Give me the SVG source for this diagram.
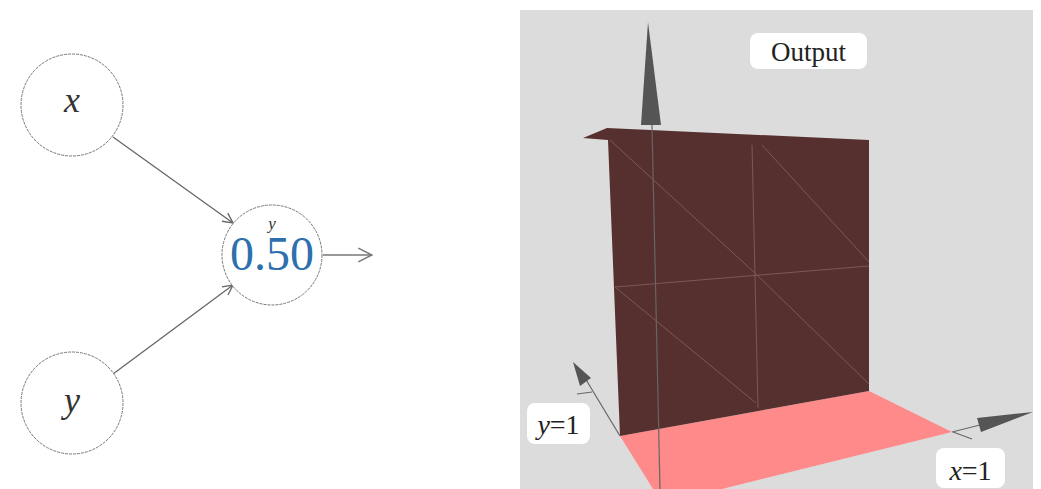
<svg xmlns="http://www.w3.org/2000/svg" width="1041" height="489" viewBox="0 0 1041 489">
<style>
.node{fill:#fff;stroke:#777;stroke-width:1;stroke-dasharray:3 1}
.edge{stroke:#666;stroke-width:1.3;fill:none}
.lbl{font-family:"Liberation Serif","DejaVu Serif",serif;font-style:italic;fill:#333}
.grid{stroke:#7d5856;stroke-width:1;fill:none}
.axis{stroke:#666;stroke-width:1.2;fill:none}
.cone{fill:#555}
.tag{fill:#fff}
.tagtxt{font-family:"Liberation Serif","DejaVu Serif",serif;fill:#222}
</style>
<defs>
<marker id="open" viewBox="0 0 12 12" refX="11" refY="6" markerWidth="12" markerHeight="12" markerUnits="userSpaceOnUse" orient="auto">
<path d="M1,1 L11,6 L1,11" fill="none" stroke="#666" stroke-width="1.3"/>
</marker>
<marker id="open2" viewBox="0 0 14 14" refX="13" refY="7" markerWidth="16" markerHeight="16" markerUnits="userSpaceOnUse" orient="auto">
<path d="M1,1 L13,7 L1,13" fill="none" stroke="#777" stroke-width="1.3"/>
</marker>
</defs>
<rect width="1041" height="489" fill="#fff"/>
<g id="connectors">
<line class="edge" x1="113" y1="137" x2="233" y2="223" marker-end="url(#open)"/>
<line class="edge" x1="113" y1="374" x2="233" y2="285" marker-end="url(#open)"/>
<line x1="323" y1="255" x2="372" y2="255" stroke="#999" stroke-width="2.2" marker-end="url(#open2)"/>
</g>
<g id="node-x">
<circle class="node" cx="72" cy="105" r="51"/>
<text class="lbl" x="72" y="112" font-size="36" text-anchor="middle">x</text>
</g>
<g id="node-y">
<circle class="node" cx="72" cy="403" r="51"/>
<text class="lbl" x="72" y="412" font-size="36" text-anchor="middle">y</text>
</g>
<g id="node-out">
<circle class="node" cx="272" cy="255" r="50"/>
<text class="lbl" x="272" y="229" font-size="17" text-anchor="middle">y</text>
<text x="272" y="270" font-family="Liberation Serif, DejaVu Serif, serif" font-size="48" fill="#2e6fae" text-anchor="middle">0.50</text>
</g>
<g id="plot">
<rect x="520" y="10" width="513" height="479" fill="#dcdcdc"/>
<polygon points="620,436 869,391 952,432 722,489 653,489" fill="#ff8a8a"/>
<polygon points="583,138 607,128 869,140 869,391 620,436 608,140" fill="#56302f"/>
<line class="grid" x1="752" y1="145" x2="758" y2="408"/>
<line class="grid" x1="615" y1="287" x2="869" y2="266"/>
<line class="grid" x1="610" y1="140" x2="757" y2="275"/>
<line class="grid" x1="762" y1="145" x2="869" y2="262"/>
<line class="grid" x1="615" y1="287" x2="756" y2="403"/>
<line class="grid" x1="757" y1="275" x2="869" y2="384"/>
<line class="axis" x1="652" y1="125" x2="660" y2="489"/>
<polygon class="cone" points="648,22 641,125 661,125"/>
<line class="axis" x1="585" y1="378" x2="620" y2="436"/>
<polygon class="cone" points="573,362 580,386 591,378"/>
<line class="axis" x1="577" y1="394" x2="592" y2="392"/>
<line class="axis" x1="952" y1="432" x2="980" y2="425"/>
<polygon class="cone" points="1033,412 977,418 981,432"/>
<line class="axis" x1="953" y1="432" x2="972" y2="439"/>
<g id="label-output">
<rect class="tag" x="750" y="33" width="117" height="36" rx="8"/>
<text class="tagtxt" x="808.5" y="61" font-size="27" text-anchor="middle">Output</text>
</g>
<g id="label-y1">
<rect class="tag" x="527" y="403" width="63" height="41" rx="8"/>
<text class="tagtxt" x="558.5" y="434" font-size="28" text-anchor="middle"><tspan font-style="italic">y</tspan>=1</text>
</g>
<g id="label-x1">
<rect class="tag" x="936" y="448" width="69" height="40" rx="8"/>
<text class="tagtxt" x="970.5" y="480" font-size="28" text-anchor="middle"><tspan font-style="italic">x</tspan>=1</text>
</g>
</g>
</svg>
